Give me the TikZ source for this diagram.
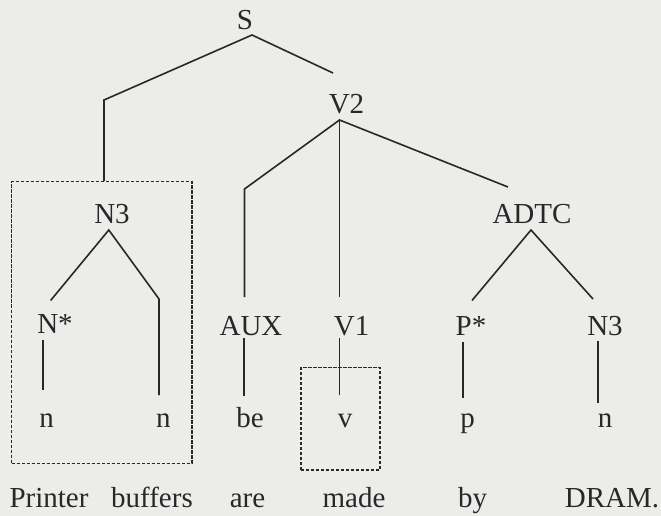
\documentclass[tikz,border=0pt]{standalone}
\usepackage{fontspec}
\setmainfont{Liberation Serif}
\usetikzlibrary{calc}
\definecolor{paper}{RGB}{236,236,234}
\definecolor{ink}{RGB}{40,40,40}
\begin{document}
\begin{tikzpicture}[x=1pt,y=-1pt,
  lbl/.style={inner sep=0pt,anchor=base,text=ink,font=\fontsize{29}{32}\selectfont},
  tree/.style={draw=ink,line width=1.6pt},
  dbox/.style={draw=ink,line width=1.3pt,dash pattern=on 3.2pt off 1.8pt,inner sep=0pt}]
\fill[paper] (0,0) rectangle (661,516);
\useasboundingbox (0,0) rectangle (661,516);
% labels
\node[lbl] (S)   at (245,29.3) {S};
\node[lbl] (V2)  at (346.5,113.5) {V2};
\node[lbl] (N3)  at (112,223) {N3};
\node[lbl] (ADTC) at (532,223) {ADTC};
\node[lbl] (Ns)  at (55,333) {N*};
\node[lbl] (AUX) at (251,335) {AUX};
\node[lbl] (V1)  at (351.7,335) {V1};
\node[lbl] (Ps)  at (471,335) {P*};
\node[lbl] (N3b) at (605,335) {N3};
\node[lbl] (n1)  at (46.7,427) {n};
\node[lbl] (n2)  at (163.3,427) {n};
\node[lbl] (be)  at (250,427) {be};
\node[lbl] (v)   at (345,427) {v};
\node[lbl] (p)   at (467.5,427) {p};
\node[lbl] (n3)  at (605,427) {n};
\node[lbl] (w1) at (49,507) {Printer};
\node[lbl] (w2) at (152,507) {buffers};
\node[lbl] (w3) at (247.5,507) {are};
\node[lbl] (w4) at (354,507) {made};
\node[lbl] (w5) at (472.5,507) {by};
\node[lbl] (w6) at (612,507) {DRAM.};
% dashed boxes
\node[dbox,minimum width=180.3pt,minimum height=281.6pt] (box1) at (101.85,322.5) {};
\node[dbox,minimum width=79pt,minimum height=102.5pt] (box2) at (340.5,418.75) {};
% S
\coordinate (sbend) at ([shift={(-8,-123)}]N3.base);
\draw[tree] (sbend |- box1.north) -- (sbend) -- ([shift={(7,5.7)}]S.base)
  -- ([shift={(-13.5,-40.5)}]V2.base);
% V2
\coordinate (vbend) at ([shift={(-6.5,-146)}]AUX.base);
\draw[tree] ([shift={(-6.5,-38)}]AUX.base) -- (vbend) -- ([shift={(-7,6.5)}]V2.base)
  -- ([shift={(-24,-36)}]ADTC.base);
\draw[tree] ([shift={(-7,6.5)}]V2.base) -- ([shift={(-12.2,-38)}]V1.base);
% N3
\draw[tree] ([shift={(-4.4,-32.5)}]Ns.base) -- ([shift={(-3.2,7)}]N3.base)
  -- ([shift={(-4.3,-128)}]n2.base) -- ([shift={(-4.3,-32)}]n2.base);
% ADTC
\draw[tree] ([shift={(1,-34.5)}]Ps.base) -- ([shift={(-1,7)}]ADTC.base)
  -- ([shift={(-12,-36)}]N3b.base);
% preterminal lines
\draw[tree] ([shift={(-12,7)}]Ns.base) -- ([shift={(-3.7,-37)}]n1.base);
\draw[tree] ([shift={(-7,3)}]AUX.base) -- ([shift={(-6,-31)}]be.base);
\draw[tree] ([shift={(-12.2,3)}]V1.base) -- ([shift={(-5.5,-32)}]v.base);
\draw[tree] ([shift={(-8,7)}]Ps.base) -- ([shift={(-4.5,-29)}]p.base);
\draw[tree] ([shift={(-7,6)}]N3b.base) -- ([shift={(-7,-24)}]n3.base);
\end{tikzpicture}
\end{document}
